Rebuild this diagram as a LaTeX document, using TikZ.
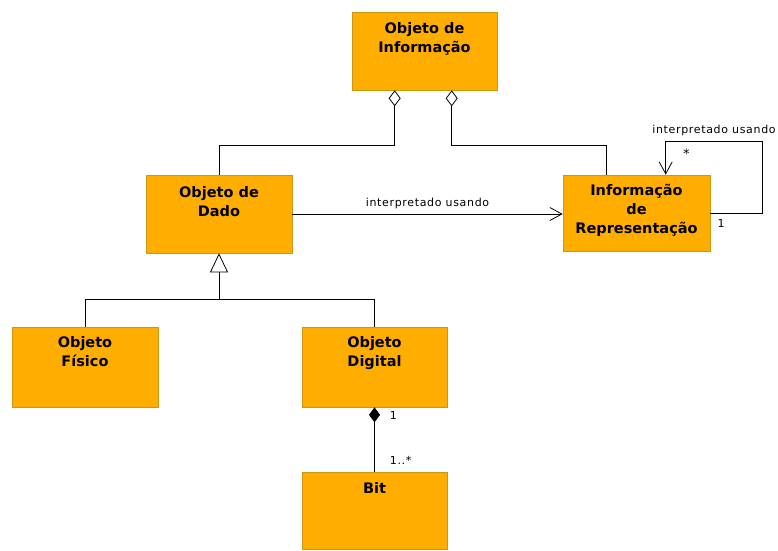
\documentclass[tikz,border=0pt]{standalone}
\usepackage{fontspec}
\setmainfont{DejaVu Sans}
\newfontfamily\rotulo[LetterSpace=6]{DejaVu Sans}
\usetikzlibrary{arrows.meta}
\definecolor{laranja}{RGB}{255,174,0}
\definecolor{borda}{RGB}{205,150,20}
\begin{document}
\begin{tikzpicture}[x=1pt,y=-1pt]
			\tikzstyle{classe}=[draw=borda,line width=0.6pt,fill=laranja,minimum width=146pt,inner sep=0pt]
			\tikzstyle{nome}=[align=center,inner sep=0pt,anchor=north,label distance=-12pt,font=\bfseries\fontsize{14.5}{19}\selectfont]
			\tikzstyle{texto}=[inner sep=1pt,font=\rotulo\fontsize{11}{13}\selectfont]
			\tikzstyle{agrega}=[black,line width=0.8pt,{Diamond[open,length=16pt,width=12pt]}-]
			\tikzstyle{compoe}=[black,line width=0.8pt,{Diamond[length=15pt,width=11pt]}-]
			\tikzstyle{heranca}=[black,line width=0.8pt,-{Triangle[open,length=19pt,width=18pt]}]
			\tikzstyle{navega}=[black,line width=0.8pt,-{Straight Barb[length=12pt,width=13pt]}]
			\useasboundingbox (0,0) rectangle (778,550);
			% classes
			\node [classe,minimum width=145pt,minimum height=78pt,label={[nome,name=infotxt,label distance=-11pt]above:{Objeto de\\Informação}}] (info) at (424.5,51) {};
			\node [classe,minimum height=78pt,label={[nome,name=dadotxt]above:{Objeto de\\Dado}}] (dado) at (219,214) {};
			\node [classe,minimum width=147pt,minimum height=76pt,label={[nome,name=reptxt,label distance=-9pt]above:{Informação\\de\\Representação}}] (rep) at (636.5,213) {};
			\node [classe,minimum height=80pt,label={[nome,name=fisicotxt,label distance=-10pt]above:{Objeto\\Físico}}] (fisico) at (85,367) {};
			\node [classe,minimum width=145pt,minimum height=80pt,label={[nome,name=digitaltxt,label distance=-10pt]above:{Objeto\\Digital}}] (digital) at (374.5,367) {};
			\node [classe,minimum width=145pt,minimum height=77pt,label={[nome,name=bittxt,label distance=-11pt]above:{Bit}}] (bit) at (374.5,510.5) {};
			% agregacoes
			\draw [agrega] ([xshift=43pt]info.south west) -- ++(0,55) -| (dado.north);
			\draw [agrega] ([xshift=100pt]info.south west) -- ++(0,55) -| ([xshift=44pt]rep.north west);
			% associacoes
			\draw [navega] (dado.east) -- node[texto,above=4pt] {interpretado usando} (rep.west |- dado.east);
			\draw [navega] (rep.east) node[texto,anchor=north west,xshift=6pt,yshift=-5pt] {1} -- ++(52,0) |- node[texto,pos=0.75,above=5pt] {interpretado usando} ([xshift=103pt,yshift=33pt]rep.north west) -- node[texto,pos=0.35,right=16pt,font=\fontsize{13}{13}\selectfont] {*} ([xshift=103pt]rep.north west);
			% heranca
			\coordinate (ramo) at ([yshift=-46pt]dado.south);
			\draw [heranca] (ramo) -- (dado.south);
			\draw [black,line width=0.8pt] (fisico.north) |- (ramo) -| (digital.north);
			% composicao
			\draw [compoe] (digital.south) -- node[texto,pos=0.12,right=14pt] {1} node[texto,pos=0.83,right=14pt] {1..*} (bit.north);
		\end{tikzpicture}
\end{document}
